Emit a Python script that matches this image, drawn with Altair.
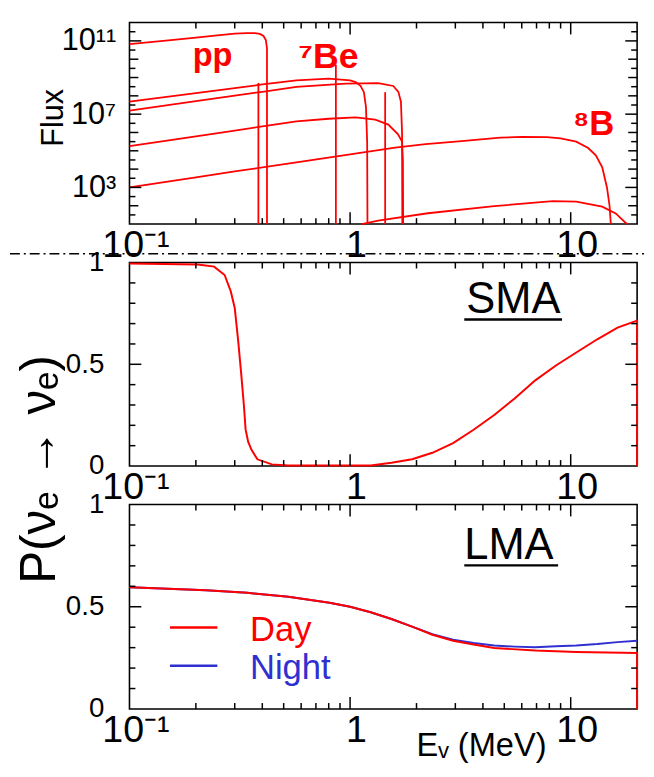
import altair as alt
import pandas as pd

# ---------------- data ----------------
# Top panel: solar neutrino spectra (E in MeV, log10 of flux)
pp_E = [0.1, 0.15, 0.2, 0.25, 0.3, 0.34, 0.37, 0.39, 0.405, 0.415, 0.42, 0.42]
pp_logF = [10.82, 11.03, 11.18, 11.3, 11.4, 11.43, 11.42, 11.38, 11.27, 11.05, 10.6, 1.0]

n13_E = [0.1, 0.2, 0.3, 0.4, 0.571, 0.8, 1.0, 1.06, 1.115, 1.155, 1.18, 1.195, 1.199]
n13_logF = [7.68, 8.15, 8.42, 8.62, 8.85, 8.94, 8.84, 8.75, 8.55, 8.2, 7.4, 5.5, 1.0]

o15_E = [0.1, 0.2, 0.3, 0.4, 0.571, 0.955, 1.34, 1.57, 1.655, 1.7, 1.72, 1.725]
o15_logF = [7.19, 7.71, 8.01, 8.22, 8.49, 8.67, 8.7, 8.54, 8.22, 7.68, 6.0, 1.0]

f17_E = [0.1, 0.2, 0.3, 0.4, 0.571, 0.8, 1.06, 1.3, 1.49, 1.65, 1.72, 1.735, 1.74]
f17_logF = [5.26, 5.79, 6.1, 6.33, 6.6, 6.75, 6.82, 6.7, 6.43, 5.9, 5.5, 4.5, 1.0]

b8_E = [0.1, 0.2, 0.3, 0.571, 1.0, 1.6, 2.2, 3.2, 4.8, 6.0, 7.8, 9.0, 10.6, 12.0, 13.0, 13.9, 14.6, 15.0, 15.2]
b8_logF = [3.0, 3.55, 3.87, 4.37, 4.8, 5.17, 5.36, 5.53, 5.72, 5.76, 5.75, 5.68, 5.5, 5.15, 4.75, 4.1, 3.0, 2.0, 1.0]

hep_E = [1.13, 1.34, 2.25, 4.5, 8.3, 10.6, 13.9, 16.0, 17.8, 18.2]
hep_logF = [1.0, 1.19, 1.59, 1.98, 2.25, 2.23, 1.95, 1.58, 1.05, 1.0]

# mono-energetic lines (7Be 0.384, 7Be 0.862, pep 1.442)
line_E = [0.384, 0.862, 1.442]
line_logF = [8.7, 9.7, 8.2]

# Middle panel: SMA survival probability
sma_E = [0.1, 0.204, 0.242, 0.27, 0.288, 0.30, 0.311, 0.321, 0.33, 0.336, 0.345, 0.357, 0.38,
         0.442, 0.525, 1.24, 1.54, 1.91, 2.36, 2.93, 3.63, 4.5, 5.57, 6.91, 8.57, 10.6, 13.2,
         16.3, 20.0, 20.0]
sma_P = [0.995, 0.99, 0.98, 0.939, 0.858, 0.777, 0.615, 0.453, 0.3, 0.18, 0.12, 0.081, 0.033,
         0.008, 0.003, 0.003, 0.016, 0.033, 0.065, 0.113, 0.178, 0.251, 0.332, 0.421, 0.494,
         0.558, 0.623, 0.68, 0.715, 0.0]

# Bottom panel: LMA survival probability, day and night
day_E = [0.1, 0.222, 0.342, 0.525, 0.807, 1.0, 1.24, 1.54, 1.91, 2.36, 2.93, 3.63, 4.5,
         6.91, 10.6, 20.0, 20.0]
day_P = [0.595, 0.581, 0.568, 0.549, 0.52, 0.5, 0.473, 0.44, 0.403, 0.363, 0.334, 0.315,
         0.298, 0.286, 0.279, 0.274, 0.0]
night_E = [0.1, 0.222, 0.342, 0.525, 0.807, 1.0, 1.24, 1.54, 1.91, 2.36, 2.93, 3.63, 4.5,
           5.57, 6.91, 8.57, 10.6, 13.2, 16.3, 20.0]
night_P = [0.595, 0.581, 0.568, 0.549, 0.52, 0.5, 0.473, 0.44, 0.403, 0.366, 0.339, 0.323,
           0.31, 0.305, 0.302, 0.307, 0.311, 0.318, 0.327, 0.334]

# tick positions
x_major_ticks = [1, 10]
x_minor_ticks = [0.2, 0.3, 0.4, 0.5, 0.6, 0.7, 0.8, 0.9, 2, 3, 4, 5, 6, 7, 8, 9]
x_label_values = [0.1, 1, 10]
f_label_values = [1e3, 1e7, 1e11]
f_decade_ticks = [1e2, 1e4, 1e5, 1e6, 1e8, 1e9, 1e10]
f_half_ticks = [3.16e1, 3.16e2, 3.16e3, 3.16e4, 3.16e5, 3.16e6, 3.16e7, 3.16e8, 3.16e9,
                3.16e10, 3.16e11]
p_label_values = [0, 0.5, 1]
p_major_ticks = [0.5]
p_minor_ticks = [0.1, 0.2, 0.3, 0.4, 0.6, 0.7, 0.8, 0.9]

source_labels = ["pp", "\u2077Be", "\u2078B"]
panel_labels = ["SMA", "LMA"]
legend_labels = ["Day", "Night"]

# ---------------- build tables ----------------
rows = []
for name, es, ls in [("pp", pp_E, pp_logF), ("13N", n13_E, n13_logF), ("15O", o15_E, o15_logF),
                     ("17F", f17_E, f17_logF), ("8B", b8_E, b8_logF), ("hep", hep_E, hep_logF)]:
    for i, (e, l) in enumerate(zip(es, ls)):
        rows.append({"src": name, "i": i, "E": e, "flux": 10 ** l})
flux_df = pd.DataFrame(rows)
lines_df = pd.DataFrame({"E": line_E, "flux": [10 ** v for v in line_logF]})
sma_df = pd.DataFrame({"E": sma_E, "P": sma_P, "i": list(range(len(sma_E)))})
day_df = pd.DataFrame({"E": day_E, "P": day_P, "i": list(range(len(day_E)))})
night_df = pd.DataFrame({"E": night_E, "P": night_P, "i": list(range(len(night_E)))})

W = 514
H1, H2, H3 = 204, 206, 207
RED = "#ff0000"
BLUE = "#3030d0"
FONT = "Liberation Sans"

xscale = alt.Scale(type="log", domain=[0.1, 20], nice=False)
fscale = alt.Scale(type="log", domain=[10, 1e12], nice=False)
pscale = alt.Scale(domain=[0, 1], nice=False, zero=False)

x_label_expr = "datum.value < 0.5 ? '10\u207b\u00b9' : (datum.value < 5 ? '1' : '10')"


def x_axis(**kw):
    return alt.Axis(values=x_label_values, labelExpr=x_label_expr, ticks=False, domain=False,
                    grid=False, labelFontSize=38, labelPadding=3, labelFlush=False,
                    labelOffset=6, **kw)


def p_axis(**kw):
    return alt.Axis(values=p_label_values,
                    labelExpr="datum.value == 0 ? '0' : (datum.value == 1 ? '1' : '0.5')",
                    ticks=False, domain=False, grid=False, labelFontSize=28, labelPadding=26,
                    labelFlush=False, **kw)


def tick_layers(xmaj, xmin, ymaj, ymin, xax, yax, yscale, H, yextra=None):
    """Inward tick marks on all four sides, drawn through the shared scales."""
    out = []
    for vals, L in [(xmaj, 12), (xmin, 6)]:
        base = alt.Chart(pd.DataFrame({"t": vals})).mark_rule(color="black", strokeWidth=1.5)
        out.append(base.encode(x=alt.X("t:Q", scale=xscale, axis=xax),
                               y=alt.value(H), y2=alt.value(H - L)))
        out.append(base.encode(x=alt.X("t:Q", scale=xscale, axis=xax),
                               y=alt.value(0), y2=alt.value(L)))
    yspecs = [(ymaj, 12), (ymin, 6)]
    if yextra is not None:
        yspecs.append(yextra)
    for vals, L in yspecs:
        base = alt.Chart(pd.DataFrame({"t": vals})).mark_rule(color="black", strokeWidth=1.5)
        out.append(base.encode(y=alt.Y("t:Q", scale=yscale, axis=yax),
                               x=alt.value(0), x2=alt.value(L)))
        out.append(base.encode(y=alt.Y("t:Q", scale=yscale, axis=yax),
                               x=alt.value(W), x2=alt.value(W - L)))
    return out


def text_mark(txt, x, y, size, color="black", weight="normal"):
    return alt.Chart(pd.DataFrame({"s": [txt]})).mark_text(
        align="left", baseline="alphabetic", fontSize=size, font=FONT, fontWeight=weight,
        color=color).encode(text="s:N", x=alt.value(x), y=alt.value(y))


def hrule(x1, x2, y, color="black", width=2.5, dash=None):
    kw = {"color": color, "strokeWidth": width}
    if dash is not None:
        kw["strokeDash"] = dash
    return alt.Chart(pd.DataFrame({"k": [0]})).mark_rule(**kw).encode(
        x=alt.value(x1), x2=alt.value(x2), y=alt.value(y))


# ---------------- top panel ----------------
top_xax = x_axis(title=None)
top_yax = alt.Axis(values=f_label_values,
                   labelExpr="datum.value < 1e5 ? '10\u00b3' : (datum.value < 1e9 ? '10\u2077' : '10\u00b9\u00b9')",
                   ticks=False, domain=False, grid=False, labelFontSize=31,
                   labelPadding=14, labelFlush=False, title="Flux", titleX=-68,
                   titleY=96, titleAngle=270, titleAlign="center",
                   titleBaseline="alphabetic", titleFontSize=31)
flux_lines = alt.Chart(flux_df).mark_line(color=RED, strokeWidth=1.8).encode(
    x=alt.X("E:Q", scale=xscale, axis=top_xax),
    y=alt.Y("flux:Q", scale=fscale, axis=top_yax),
    detail="src:N",
    order="i:Q",
)
mono = alt.Chart(lines_df).mark_rule(color=RED, strokeWidth=1.8).encode(
    x=alt.X("E:Q", scale=xscale, axis=top_xax),
    y=alt.Y("flux:Q", scale=fscale, axis=top_yax),
    y2=alt.datum(10),
)
top = alt.layer(
    flux_lines, mono,
    *tick_layers(x_major_ticks, x_minor_ticks, f_label_values, f_half_ticks, top_xax, top_yax,
                 fscale, H1, yextra=(f_decade_ticks, 9)),
    text_mark(source_labels[0], 64, 44, 33, RED, "bold"),
    text_mark(source_labels[1], 171, 46, 36, RED, "bold"),
    text_mark(source_labels[2], 449, 114, 35, RED, "bold"),
    hrule(-121, 521, 234, width=1.5, dash=[10, 4, 2, 4]),
).properties(width=W, height=H1)

# ---------------- middle panel (SMA) ----------------
mid_xax = x_axis(title=None)
mid_yax = p_axis(title="P(\u03bd\u2091 \u2192 \u03bd\u2091)", titleX=-76, titleY=209,
                 titleAngle=270, titleAlign="center", titleBaseline="alphabetic",
                 titleFontSize=50)
sma_line = alt.Chart(sma_df).mark_line(color=RED, strokeWidth=2).encode(
    x=alt.X("E:Q", scale=xscale, axis=mid_xax),
    y=alt.Y("P:Q", scale=pscale, axis=mid_yax),
    order="i:Q",
)
mid = alt.layer(
    sma_line,
    *tick_layers(x_major_ticks, x_minor_ticks, p_major_ticks, p_minor_ticks, mid_xax, mid_yax,
                 pscale, H2),
    text_mark(panel_labels[0], 341, 51, 44),
    hrule(339, 438, 57.6),
).properties(width=W, height=H2)

# ---------------- bottom panel (LMA) ----------------
bot_xax = x_axis(title="E\u1d65 (MeV)", titleX=356, titleY=47, titleAlign="center",
                 titleBaseline="alphabetic", titleFontSize=33)
bot_yax = p_axis(title=None)
night_line = alt.Chart(night_df).mark_line(color=BLUE, strokeWidth=2).encode(
    x=alt.X("E:Q", scale=xscale, axis=bot_xax),
    y=alt.Y("P:Q", scale=pscale, axis=bot_yax),
    order="i:Q",
)
day_line = alt.Chart(day_df).mark_line(color=RED, strokeWidth=2).encode(
    x=alt.X("E:Q", scale=xscale, axis=bot_xax),
    y=alt.Y("P:Q", scale=pscale, axis=bot_yax),
    order="i:Q",
)
bot = alt.layer(
    night_line, day_line,
    *tick_layers(x_major_ticks, x_minor_ticks, p_major_ticks, p_minor_ticks, bot_xax, bot_yax,
                 pscale, H3),
    text_mark(panel_labels[1], 339, 55, 44),
    hrule(339, 434, 61.6),
    hrule(41, 89, 124.5, color=RED, width=2.5),
    text_mark(legend_labels[0], 122, 138, 35, RED),
    hrule(41, 89, 163.3, color=BLUE, width=2.5),
    text_mark(legend_labels[1], 122, 176.7, 35, BLUE),
).properties(width=W, height=H3)

chart = alt.vconcat(top, mid, bot, spacing=39, bounds="flush").properties(
    padding={"left": 0, "top": 8, "right": 0, "bottom": 0}
).configure_view(
    stroke="black", strokeWidth=1.6
).configure_axis(
    labelFont=FONT, titleFont=FONT, labelColor="black", titleColor="black",
    titleFontWeight="normal"
)

chart.save("out.html", embed_options={"renderer": "svg", "actions": False})
